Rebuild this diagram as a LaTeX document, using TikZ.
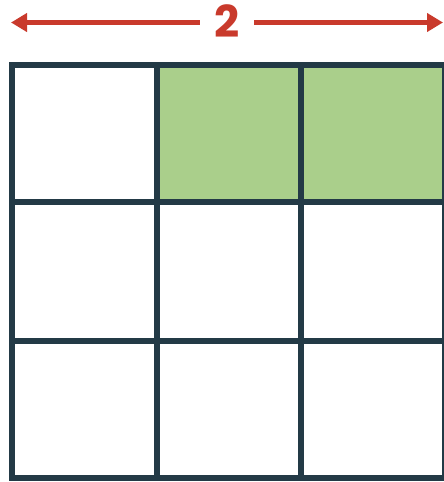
\documentclass[tikz,border=0pt]{standalone}
\usepackage{fontspec}
\setmainfont{Poppins}
\usetikzlibrary{arrows.meta,positioning}
\definecolor{ink}{HTML}{233A46}
\definecolor{mark}{HTML}{C93A2C}
\definecolor{shade}{HTML}{AACF8B}
\tikzset{
  gridline/.style={line width=6pt,draw=ink,line cap=rect},
  cellfill/.style={fill=shade,draw=none},
  span/.style={-{Triangle[length=16pt,width=18pt]},line width=4.5pt,draw=mark},
  spanlabel/.style={font=\fontsize{44}{44}\selectfont\bfseries,text=mark,inner sep=0pt,minimum width=54pt,minimum height=30pt},
}
\begin{document}
\begin{tikzpicture}[x=1pt,y=-1pt]
\useasboundingbox (0,0) rectangle (444,482);

% shaded cells of the top row
\fill[cellfill] (156.5,65) rectangle (300.5,202);
\fill[cellfill] (300.5,65) rectangle (445,202);

% grid
\foreach \x in {11.5,156.5,300.5,445}
  \draw[gridline] (\x,65) -- (\x,478);
\foreach \y in {65,202,341,478}
  \draw[gridline] (11.5,\y) -- (445,\y);

% width marker
\node[spanlabel] (two) at (227,21) {2};
\coordinate (lefttip) at (11,22.5);
\coordinate (righttip) at (443,22.5);
\draw[span] (two.west |- lefttip) -- (lefttip);
\draw[span] (two.east |- righttip) -- (righttip);

\end{tikzpicture}
\end{document}
